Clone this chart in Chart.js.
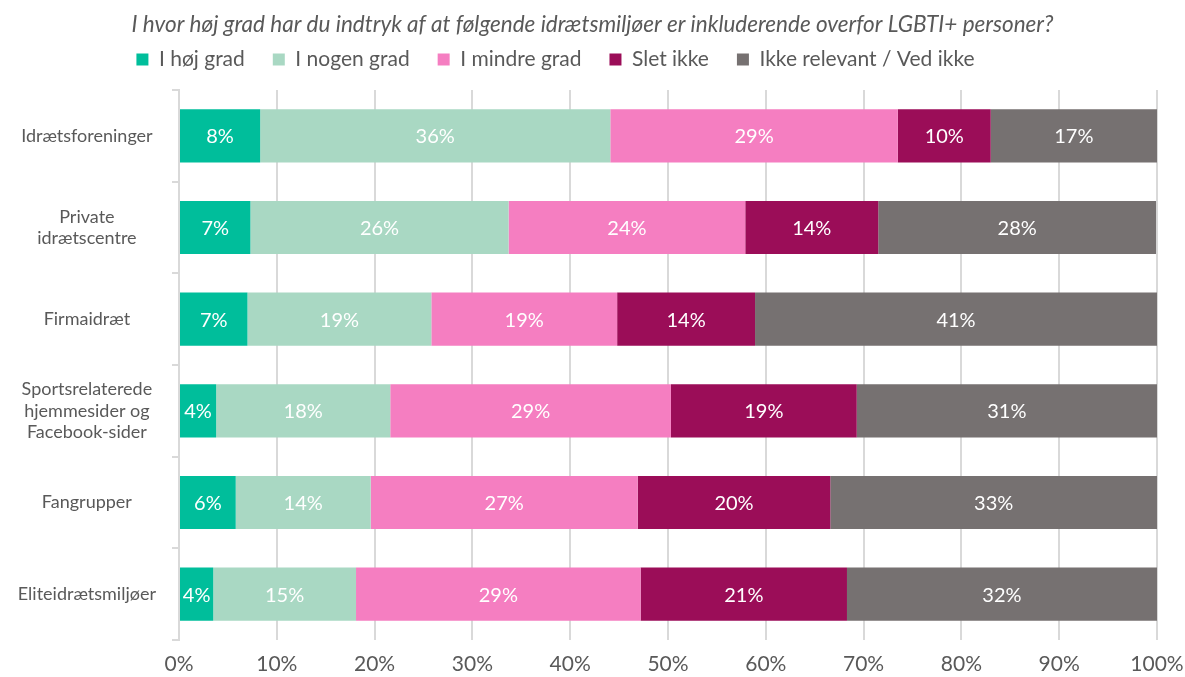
<!DOCTYPE html>
<html>
<head>
<meta charset="utf-8">
<script src="https://cdn.jsdelivr.net/npm/chart.js@4"></script>
<style>
  html, body { margin: 0; padding: 0; background: #fff; }
  #wrap { width: 1185px; height: 677px; }
</style>
</head>
<body>
<div id="wrap"><canvas id="barChartCanvas" width="1185" height="677"></canvas></div>
<script>
let categories = [
    'Idrætsforeninger',
    ['Private', 'idrætscentre'],
    'Firmaidræt',
    ['Sportsrelaterede', 'hjemmesider og', 'Facebook-sider'],
    'Fangrupper',
    'Eliteidrætsmiljøer'
];
let seriesNames = ['I høj grad', 'I nogen grad', 'I mindre grad', 'Slet ikke', 'Ikke relevant / Ved ikke'];
let hojGrad      = [8.3, 7.3, 7.0, 3.8, 5.8, 3.5];
let nogenGrad    = [35.8, 26.4, 18.8, 17.8, 13.8, 14.6];
let mindreGrad   = [29.4, 24.2, 19.0, 28.7, 27.3, 29.1];
let sletIkke     = [9.5, 13.6, 14.1, 19.0, 19.7, 21.1];
let ikkeRelevant = [17.0, 28.4, 41.1, 30.7, 33.4, 31.7];
let xTicks = [0, 10, 20, 30, 40, 50, 60, 70, 80, 90, 100];
let colors = ['#00be9b', '#a9d8c3', '#f57ec1', '#9b0d58', '#767171'];

let textGray = '#595959';
let gridGray = '#d9d9d9';
let fontFamily = 'Lato, "Open Sans", sans-serif';

let barLabels = {
    id: 'barLabels',
    afterDatasetsDraw: function (chart) {
        let ctx = chart.ctx;
        ctx.save();
        ctx.fillStyle = '#ffffff';
        ctx.font = '20px ' + fontFamily;
        ctx.textAlign = 'center';
        ctx.textBaseline = 'middle';
        chart.data.datasets.forEach(function (ds, i) {
            chart.getDatasetMeta(i).data.forEach(function (bar, j) {
                let p = bar.getProps(['x', 'y', 'base'], true);
                ctx.fillText(Math.round(ds.data[j]) + '%', (p.x + p.base) / 2, p.y + 1);
            });
        });
        ctx.restore();
    }
};

// legend sits a bit left of centre and tighter than chart.js spacing gives
let legendTweak = {
    id: 'legendTweak',
    beforeLayout: function (chart) {
        let lg = chart.legend;
        if (lg && !lg._tweaked) {
            let origFit = lg.fit;
            lg.fit = function () {
                origFit.call(this);
                this.height = 52;
            };
            lg._tweaked = true;
        }
    },
    afterUpdate: function (chart) {
        chart.legend.left -= 37;
        chart.legend.right -= 37;
        chart.legend.top -= 17;
    }
};

let seriesData = [hojGrad, nogenGrad, mindreGrad, sletIkke, ikkeRelevant];

let barChartDraw = function () {
    let ctx = document.getElementById('barChartCanvas').getContext('2d');
    window.barChart = new Chart(ctx, {
        type: 'bar',
        data: {
            labels: categories,
            datasets: seriesData.map(function (values, i) {
                return {
                    label: seriesNames[i],
                    data: values,
                    backgroundColor: colors[i],
                    barPercentage: 0.58,
                    categoryPercentage: 1
                };
            })
        },
        options: {
            indexAxis: 'y',
            responsive: false,
            animation: false,
            layout: { padding: { top: 11, right: 0, bottom: 0, left: 0 } },
            plugins: {
                title: {
                    display: true,
                    text: 'I hvor høj grad har du indtryk af at følgende idrætsmiljøer er inkluderende overfor LGBTI+ personer?',
                    color: textGray,
                    font: { family: fontFamily, size: 22.5, style: 'italic', weight: 'normal' },
                    padding: { top: 0, bottom: 0 }
                },
                legend: {
                    position: 'top',
                    labels: {
                        color: textGray,
                        font: { family: fontFamily, size: 21 },
                        boxWidth: 12,
                        boxHeight: 12,
                        padding: 28
                    }
                },
                tooltip: { enabled: false }
            },
            scales: {
                x: {
                    stacked: true,
                    min: 0,
                    max: 100,
                    afterBuildTicks: function (scale) {
                        scale.ticks = xTicks.map(function (v) { return { value: v }; });
                    },
                    afterFit: function (scale) {
                        scale.height = 37;
                        scale.paddingRight = 28;
                    },
                    ticks: {
                        color: textGray,
                        font: { family: fontFamily, size: 21 },
                        padding: 12,
                        callback: function (v) { return v + '%'; }
                    },
                    grid: { color: gridGray, lineWidth: 2, drawTicks: false },
                    border: { display: false }
                },
                y: {
                    stacked: true,
                    afterFit: function (scale) { scale.width = 179; },
                    ticks: {
                        color: textGray,
                        font: { family: fontFamily, size: 18 },
                        crossAlign: 'center',
                        padding: 16
                    },
                    grid: {
                        offset: true,
                        drawOnChartArea: false,
                        color: gridGray,
                        lineWidth: 2,
                        tickLength: 7
                    },
                    border: { display: true, color: gridGray, width: 2 }
                }
            }
        },
        plugins: [barLabels, legendTweak]
    });
};

window.onload = function () {
    barChartDraw();
};
</script>
</body>
</html>
